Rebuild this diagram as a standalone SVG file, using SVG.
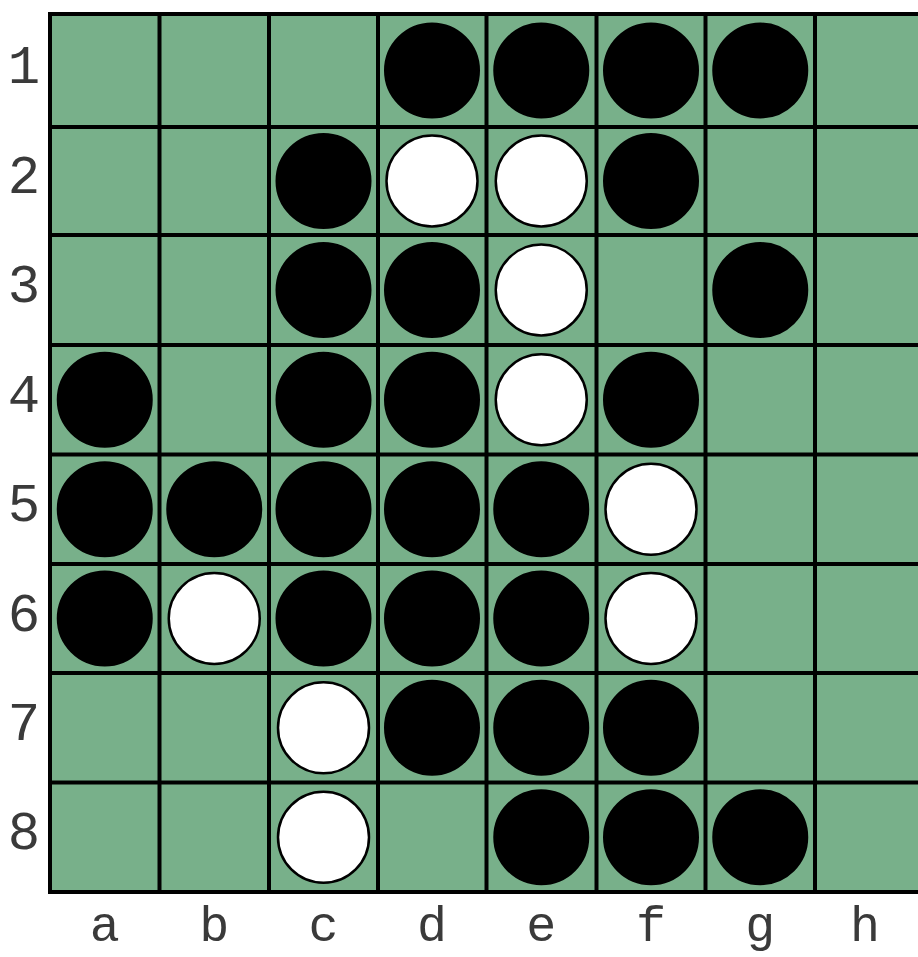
<svg xmlns="http://www.w3.org/2000/svg" width="918" height="957" viewBox="0 0 918 957">
<style>
.lbl{font-family:"Liberation Mono","DejaVu Sans Mono",monospace;font-size:54px;fill:#3a3a3a;text-anchor:middle}
.cl{font-size:50px}
.ln{stroke:#000;stroke-width:4}
.b{fill:#000;stroke:#000;stroke-width:2}
.w{fill:#fff;stroke:#000;stroke-width:2.5}
</style>
<rect width="918" height="957" fill="#fff"/>
<g id="board">
<rect x="50" y="14" width="880" height="878" fill="#78b08a"/>
<g class="ln">
<line x1="50" y1="12" x2="50" y2="894"/>
<line x1="159.5" y1="12" x2="159.5" y2="894"/>
<line x1="269" y1="12" x2="269" y2="894"/>
<line x1="378" y1="12" x2="378" y2="894"/>
<line x1="486.5" y1="12" x2="486.5" y2="894"/>
<line x1="596.5" y1="12" x2="596.5" y2="894"/>
<line x1="705.5" y1="12" x2="705.5" y2="894"/>
<line x1="815" y1="12" x2="815" y2="894"/>
<line x1="48" y1="14" x2="930" y2="14"/>
<line x1="48" y1="127" x2="930" y2="127"/>
<line x1="48" y1="235" x2="930" y2="235"/>
<line x1="48" y1="345" x2="930" y2="345"/>
<line x1="48" y1="454.5" x2="930" y2="454.5"/>
<line x1="48" y1="564" x2="930" y2="564"/>
<line x1="48" y1="673" x2="930" y2="673"/>
<line x1="48" y1="782.5" x2="930" y2="782.5"/>
<line x1="48" y1="892" x2="930" y2="892"/>
</g>
</g>
<g id="labels">
<text class="lbl" x="24" y="83">1</text>
<text class="lbl" x="24" y="193">2</text>
<text class="lbl" x="24" y="302">3</text>
<text class="lbl" x="24" y="412">4</text>
<text class="lbl" x="24" y="521">5</text>
<text class="lbl" x="24" y="631">6</text>
<text class="lbl" x="24" y="740">7</text>
<text class="lbl" x="24" y="849">8</text>
<text class="lbl cl" x="104.75" y="941">a</text>
<text class="lbl cl" x="214.25" y="941">b</text>
<text class="lbl cl" x="323.5" y="941">c</text>
<text class="lbl cl" x="432" y="941">d</text>
<text class="lbl cl" x="541.25" y="941">e</text>
<text class="lbl cl" x="651" y="941">f</text>
<text class="lbl cl" x="760.25" y="941">g</text>
<text class="lbl cl" x="865" y="941">h</text>
</g>
<g id="discs">
<circle class="b" cx="432" cy="70.5" r="47"/>
<circle class="b" cx="541.25" cy="70.5" r="47"/>
<circle class="b" cx="651" cy="70.5" r="47"/>
<circle class="b" cx="760.25" cy="70.5" r="47"/>
<circle class="b" cx="323.5" cy="181" r="47"/>
<circle class="w" cx="432" cy="181" r="45.5"/>
<circle class="w" cx="541.25" cy="181" r="45.5"/>
<circle class="b" cx="651" cy="181" r="47"/>
<circle class="b" cx="323.5" cy="290" r="47"/>
<circle class="b" cx="432" cy="290" r="47"/>
<circle class="w" cx="541.25" cy="290" r="45.5"/>
<circle class="b" cx="760.25" cy="290" r="47"/>
<circle class="b" cx="104.75" cy="399.75" r="47"/>
<circle class="b" cx="323.5" cy="399.75" r="47"/>
<circle class="b" cx="432" cy="399.75" r="47"/>
<circle class="w" cx="541.25" cy="399.75" r="45.5"/>
<circle class="b" cx="651" cy="399.75" r="47"/>
<circle class="b" cx="104.75" cy="509.25" r="47"/>
<circle class="b" cx="214.25" cy="509.25" r="47"/>
<circle class="b" cx="323.5" cy="509.25" r="47"/>
<circle class="b" cx="432" cy="509.25" r="47"/>
<circle class="b" cx="541.25" cy="509.25" r="47"/>
<circle class="w" cx="651" cy="509.25" r="45.5"/>
<circle class="b" cx="104.75" cy="618.5" r="47"/>
<circle class="w" cx="214.25" cy="618.5" r="45.5"/>
<circle class="b" cx="323.5" cy="618.5" r="47"/>
<circle class="b" cx="432" cy="618.5" r="47"/>
<circle class="b" cx="541.25" cy="618.5" r="47"/>
<circle class="w" cx="651" cy="618.5" r="45.5"/>
<circle class="w" cx="323.5" cy="727.75" r="45.5"/>
<circle class="b" cx="432" cy="727.75" r="47"/>
<circle class="b" cx="541.25" cy="727.75" r="47"/>
<circle class="b" cx="651" cy="727.75" r="47"/>
<circle class="w" cx="323.5" cy="837.25" r="45.5"/>
<circle class="b" cx="541.25" cy="837.25" r="47"/>
<circle class="b" cx="651" cy="837.25" r="47"/>
<circle class="b" cx="760.25" cy="837.25" r="47"/>
</g>
</svg>
